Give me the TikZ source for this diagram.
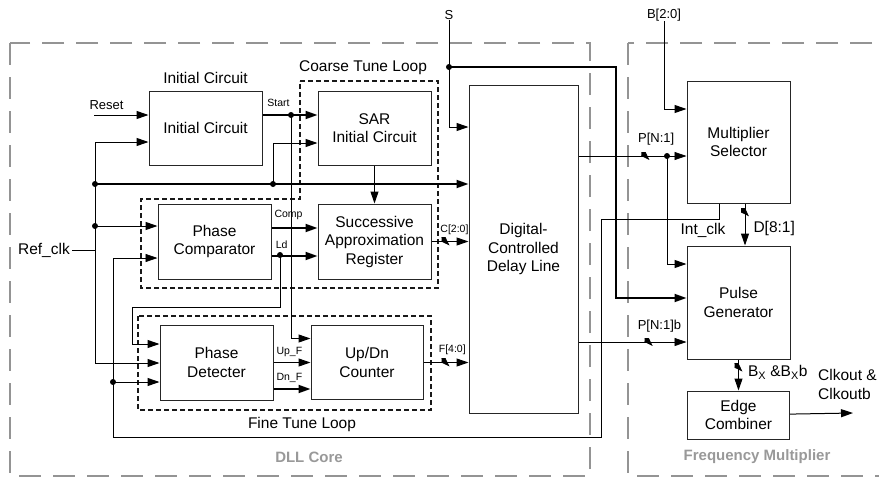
\documentclass[tikz,border=0pt]{standalone}
\usepackage{fontspec}
\setmainfont{Liberation Sans}
\usetikzlibrary{positioning,arrows.meta,calc}

\begin{document}
\begin{tikzpicture}[
    x=1pt, y=-1pt,
    font=\fontsize{15.5}{18.5}\selectfont,
    >={Triangle[length=12pt,width=8pt]},
    blk/.style    ={draw=black!85, line width=1pt, align=center, inner sep=2pt},
    flow/.style   ={->, line width=1pt},
    fat/.style    ={->, line width=1.9pt},
    slim/.style   ={->, line width=0.8pt},
    wire/.style   ={line width=1pt},
    lbl/.style    ={font=\fontsize{10.5}{12}\selectfont, inner sep=0pt},
    sig/.style    ={font=\fontsize{13}{15}\selectfont, inner sep=0pt},
    dot/.style    ={circle, fill, inner sep=0pt, minimum size=6pt},
    bus/.style    ={inner sep=0pt, minimum size=8pt,
                    path picture={\draw[line width=0.8pt]
                      (path picture bounding box.north west) --
                      (path picture bounding box.south east);}},
    loopbox/.style={draw=black!90, line width=1.3pt, dash pattern=on 5pt off 3pt},
    module/.style ={draw=black!42, line width=2.6pt, dash pattern=on 22pt off 12pt},
    modname/.style={text=black!40, font=\fontsize{15}{17}\selectfont\bfseries},
]
\useasboundingbox[fill=white] (0,0) rectangle (879,477);

% ============================================================
% MODULE FRAMES
% ============================================================
\draw[module] (10,43) rectangle (590,476);
\draw[module] (628,43) rectangle (895,476);
\node[modname] at (309,457) {DLL Core};
\node[modname] at (757,457) {Frequency Multiplier};

% tune loops
\draw[loopbox] (300,81) -- (438,81) -- (438,288) -- (141,288)
    -- (141,199) -- (300,199) -- cycle;
\draw[loopbox] (138,316) rectangle (431,410);
\node at (363,68)  {Coarse Tune Loop};
\node at (302,424) {Fine Tune Loop};

% ============================================================
% BLOCKS
% ============================================================
\node[blk, minimum width=113pt, minimum height=74pt] (init) at (205.5,128) {Initial Circuit};
\node[above=3pt of init] (inittitle) {Initial Circuit};
\node[blk, minimum width=113pt, minimum height=74pt, right=55pt of init] (sarinit) {SAR\\Initial Circuit};
\node[blk, minimum width=113pt, minimum height=75pt, below=38pt of sarinit] (sarreg)
    {Successive\\Approximation\\Register};
\node[blk, minimum width=113pt, minimum height=75pt, left=46pt of sarreg] (pcomp) {Phase\\Comparator};
\node[blk, minimum width=113pt, minimum height=75pt] (pdet) at (216.5,362.5) {Phase\\Detecter};
\node[blk, minimum width=112pt, minimum height=74pt, right=37pt of pdet] (updn) {Up/Dn\\Counter};
\node[blk, minimum width=109pt, minimum height=328pt] (dcdl) at (523.5,249)
    {Digital-\\Controlled\\Delay Line};

\node[blk, minimum width=103pt, minimum height=122pt] (musel) at (738.5,142) {Multiplier\\Selector};
\node[blk, minimum width=103pt, minimum height=113pt, below=42pt of musel] (pgen) {Pulse\\Generator};
\node[blk, minimum width=102pt, minimum height=48pt, below=31pt of pgen] (edge) {Edge\\Combiner};

% ============================================================
% JUNCTIONS
% ============================================================
\coordinate (rst)  at (94,115);
\coordinate (rtop) at (95,142);
\coordinate (rbot) at (95,363);
\coordinate (rmid) at (95,184);
\coordinate (rcmp) at (95,226);
\coordinate (rfb)  at (273,184);
\coordinate (st)   at (291,115);
\coordinate (ld)   at (280,255);
\coordinate (ldturn) at (132,307);
\coordinate (icx)  at (601,219);
\coordinate (icbot) at (113,437);
\coordinate (ick)  at (113,382);
\coordinate (sdot) at (449,67);
\coordinate (sx)   at (616,67);
\coordinate (pn)   at (667,156);
\coordinate (pnb)  at (667,342);
\coordinate (clk)  at (853,413);

% ============================================================
% DLL CORE WIRING
% ============================================================
\draw[flow] (rst) -- node[sig, pos=0.23, above=5pt] {Reset} (rst -| init.west);

\node[anchor=east, inner sep=2pt] (refclk) at (72,250) {Ref\_clk};
\draw[wire] (refclk.east) -- (refclk.east -| rtop);
\draw[flow, <->] (init.west |- rtop) -- (rtop) -- (rbot) -- (pdet.west |- rbot);
\draw[fat]  (rmid) -- (rmid -| dcdl.west);
\draw[flow] (rcmp) -- (rcmp -| pcomp.west);
\draw[flow] (rfb) |- ([yshift=-15pt]sarinit.west);

% start
\draw[fat] (init.east |- st) -- node[lbl, pos=0.29, above=7pt] {Start} (st -| sarinit.west);
\draw[flow] (st) |- ([yshift=24pt]updn.west);

% coarse loop
\draw[flow] (sarinit) -- (sarreg);
\draw[fat] ([yshift=13.5pt]pcomp.east) -- node[lbl, pos=0.37, above=7pt] {Comp}
    ([yshift=13.5pt]sarreg.west);
\draw[fat] ([yshift=-14.5pt]pcomp.east) -- node[lbl, pos=0.22, above=6pt] {Ld}
    ([yshift=-14.5pt]sarreg.west);
\draw[flow] (sarreg) -- node[bus, pos=0.38] {} node[lbl, pos=0.62, above=6pt] {C[2:0]}
    (sarreg -| dcdl.west);

% fine loop
\draw[flow] (ld) |- (ldturn) |- ([yshift=18.5pt]pdet.west);
\draw[flow] (pdet) -- node[lbl, pos=0.43, above=5pt] {Up\_F} (updn);
\draw[fat] ([yshift=-26.5pt]pdet.east) -- node[lbl, pos=0.43, above=5pt] {Dn\_F}
    ([yshift=-26.5pt]updn.west);
\draw[flow] (updn) -- node[bus, pos=0.49] {} node[lbl, pos=0.64, above=7pt] {F[4:0]}
    (updn -| dcdl.west);

% feedback clock
\draw[slim] ([xshift=-19.5pt]musel.south) |- (icx) |- (icbot) |- ([yshift=-16.5pt]pcomp.west);
\draw[flow] (ick) -- (ick -| pdet.west);
\node at (703,230) {Int\_clk};

% S input
\node[sig] (sin) at (449,15) {S};
\draw[flow] (sin) |- ([yshift=122pt]dcdl.west);
\draw[fat] (sdot) -- (sx) |- ([yshift=4.5pt]pgen.west);

% ============================================================
% FREQUENCY MULTIPLIER WIRING
% ============================================================
\draw[slim] (pn -| dcdl.east) -- node[bus, pos=0.62] {} node[sig, pos=0.72, above=10pt] {P[N:1]}
    (pn -| musel.west);
\draw[flow] (pn) |- ([yshift=38.5pt]pgen.west);
\draw[slim] (pnb -| dcdl.east) -- node[bus, pos=0.65] {} node[sig, pos=0.75, above=9pt] {P[N:1]b}
    (pnb -| pgen.west);

\node[sig] (bin) at (664,15) {B[2:0]};
\draw[flow] (bin) |- ([yshift=33pt]musel.west);

\draw[flow] ([xshift=6.5pt]musel.south) -- node[bus, pos=0.21] {}
    node[pos=0.6, right=8pt, inner sep=0pt] {D[8:1]} ([xshift=6.5pt]pgen.north);
\draw[flow] (pgen) -- node[bus, pos=0.26] {}
    node[pos=0.42, right=9pt, inner sep=0pt] {B\textsubscript{X} \&B\textsubscript{X}b} (edge);
\draw[flow] (edge) -- (clk);
\node[align=left, anchor=west, inner sep=0pt] at (818,384.5) {Clkout \&\\Clkoutb};

% dots
\foreach \j in {rmid,rcmp,rfb,st,ld,ick,sdot,pn}
  \node[dot] at (\j) {};

\end{tikzpicture}
\end{document}
